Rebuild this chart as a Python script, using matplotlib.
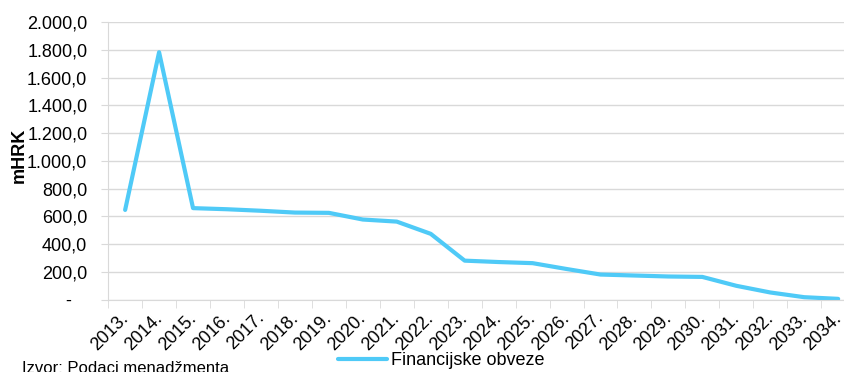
import matplotlib
matplotlib.use('Agg')
import matplotlib.pyplot as plt
import matplotlib.transforms as mtransforms
import numpy as np

plt.rcParams['font.family'] = ['Liberation Sans', 'DejaVu Sans']

years = ['2013.', '2014.', '2015.', '2016.', '2017.', '2018.', '2019.', '2020.',
         '2021.', '2022.', '2023.', '2024.', '2025.', '2026.', '2027.', '2028.',
         '2029.', '2030.', '2031.', '2032.', '2033.', '2034.']
obveze = [647, 1782, 660, 652, 641, 628, 626, 578, 563, 475, 282, 272, 264, 222,
          182, 175, 168, 165, 101, 53, 19, 7]
series_name = 'Financijske obveze'
y_ticks = [0, 200, 400, 600, 800, 1000, 1200, 1400, 1600, 1800, 2000]


def hr_fmt(v):
    if v == 0:
        return '-   '
    s = f"{v:,.1f}"
    return s.replace(',', 'X').replace('.', ',').replace('X', '.')


fig = plt.figure(figsize=(8.45, 3.72), dpi=100)
# right edge runs past the figure like in the original export
ax = fig.add_axes([0.128, 0.194, 0.884, 0.747])

x = np.arange(len(years))
line, = ax.plot(x, obveze, color='#4fcaf7', lw=3.0, solid_joinstyle='round',
                solid_capstyle='round', label=series_name)

ax.set_xlim(-0.5, len(years) - 0.5)
ax.set_ylim(0, 2000)
ax.set_yticks(y_ticks)
ax.set_yticklabels([hr_fmt(v) for v in y_ticks], fontsize=13)
ax.yaxis.grid(True, color='#d9d9d9', lw=1)
ax.set_axisbelow(True)
ax.tick_params(axis='y', length=5, color='#d9d9d9', pad=10)

ax.set_xticks(x)
ax.set_xticklabels(years, rotation=45, ha='right', rotation_mode='anchor', fontsize=13)
ax.tick_params(axis='x', which='major', length=0, pad=7)
ax.set_xticks(np.arange(len(years) + 1) - 0.5, minor=True)
ax.tick_params(axis='x', which='minor', length=6, color='#d9d9d9')
# nudge labels a bit left so the last one stays inside
shift = mtransforms.ScaledTranslation(-4 / 72, 0, fig.dpi_scale_trans)
for lbl in ax.get_xticklabels():
    lbl.set_transform(lbl.get_transform() + shift)

for s in ['top', 'right']:
    ax.spines[s].set_visible(False)
ax.spines['left'].set_color('#d9d9d9')
ax.spines['bottom'].set_color('#d9d9d9')

ax.set_ylabel('mHRK', fontsize=13, fontweight='bold')
ax.yaxis.set_label_coords(-0.108, 0.52)

fig.legend(handles=[line], loc='center', bbox_to_anchor=(0.522, 0.03),
           frameon=False, fontsize=13, handlelength=2.7, handletextpad=0.2,
           borderpad=0)
fig.text(0.026, -0.012, 'Izvor: Podaci menadžmenta', fontsize=12, va='bottom')

fig.savefig('out.png', dpi=100)
